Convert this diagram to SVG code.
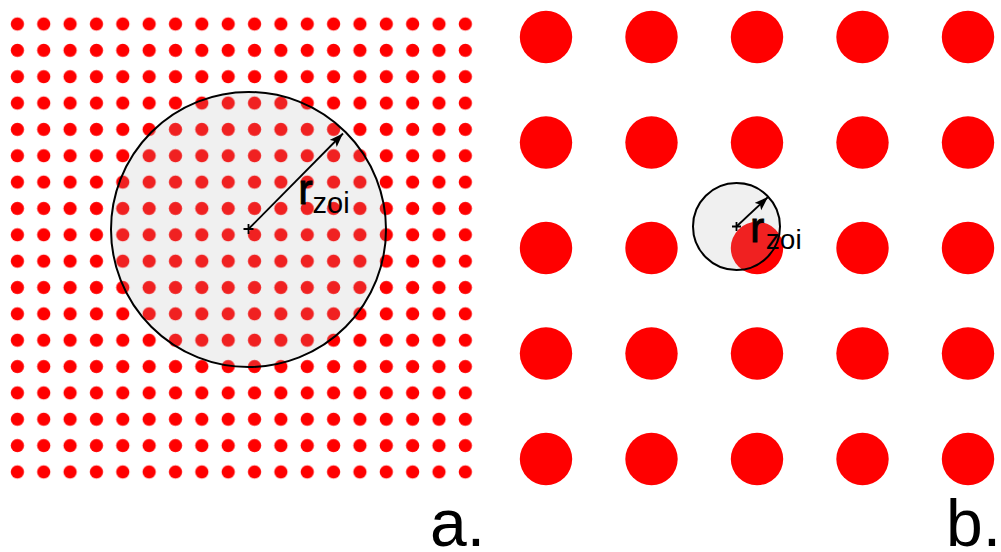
<svg xmlns="http://www.w3.org/2000/svg" width="1001" height="552" viewBox="0 0 1001 552">
<style>
.zoi{fill:#b0b0b0;fill-opacity:0.19;stroke:#000;stroke-width:2}
.arr{stroke:#000;stroke-width:1.8;fill:none}
.dot{fill:#ff0000}
.lbl{font-family:"Liberation Sans",Arial,sans-serif;fill:#000}
.r{stroke:#000;stroke-width:0.9}
.sub{stroke:none}
</style>
<defs>
<pattern id="grid" patternUnits="userSpaceOnUse" x="4.225" y="10.825" width="26.35" height="26.35">
<circle cx="13.175" cy="13.175" r="6.6" fill="#ff0000"/>
</pattern>
<marker id="ah" markerUnits="userSpaceOnUse" markerWidth="16" markerHeight="12" refX="14" refY="5" orient="auto">
<path d="M0,0 L14,5 L0,10 L3,5 z" fill="#000"/>
</marker>
<circle id="big" r="26.2" fill="#ff0000"/>
</defs>
<rect width="1001" height="552" fill="#fff"/>
<g id="panel-a">
<rect x="4.225" y="10.825" width="474.3" height="474.3" fill="url(#grid)"/>
<circle class="zoi" cx="248.5" cy="229.5" r="137.5"/>
</g>
<g id="panel-b">
<use href="#big" x="546" y="37"/><use href="#big" x="651.5" y="37"/><use href="#big" x="757" y="37"/><use href="#big" x="862.5" y="37"/><use href="#big" x="968" y="37"/>
<use href="#big" x="546" y="142.5"/><use href="#big" x="651.5" y="142.5"/><use href="#big" x="757" y="142.5"/><use href="#big" x="862.5" y="142.5"/><use href="#big" x="968" y="142.5"/>
<use href="#big" x="546" y="248"/><use href="#big" x="651.5" y="248"/><use href="#big" x="757" y="248"/><use href="#big" x="862.5" y="248"/><use href="#big" x="968" y="248"/>
<use href="#big" x="546" y="353.5"/><use href="#big" x="651.5" y="353.5"/><use href="#big" x="757" y="353.5"/><use href="#big" x="862.5" y="353.5"/><use href="#big" x="968" y="353.5"/>
<use href="#big" x="546" y="459"/><use href="#big" x="651.5" y="459"/><use href="#big" x="757" y="459"/><use href="#big" x="862.5" y="459"/><use href="#big" x="968" y="459"/>
<circle class="zoi" cx="736.5" cy="226.5" r="43.5"/>
</g>
<g id="connectors">
<path class="arr" d="M243.5,229 h10 M248.5,224 v10"/>
<line class="arr" x1="248.5" y1="229" x2="343" y2="133.5" marker-end="url(#ah)"/>
<path class="arr" d="M732,226.5 h9 M736.5,222 v9"/>
<line class="arr" x1="736.5" y1="226.5" x2="768" y2="197" marker-end="url(#ah)"/>
</g>
<g id="labels">
<text class="lbl" x="298.2" y="204.3" font-size="43"><tspan class="r">r</tspan><tspan class="sub" font-size="29" dy="9">zoi</tspan></text>
<text class="lbl" x="750" y="241.5" font-size="43"><tspan class="r">r</tspan><tspan class="sub" font-size="28" dx="1.5" dy="7">zoi</tspan></text>
<text class="lbl" x="430" y="546" font-size="66">a.</text>
<text class="lbl" x="946" y="546" font-size="66">b.</text>
</g>
</svg>
